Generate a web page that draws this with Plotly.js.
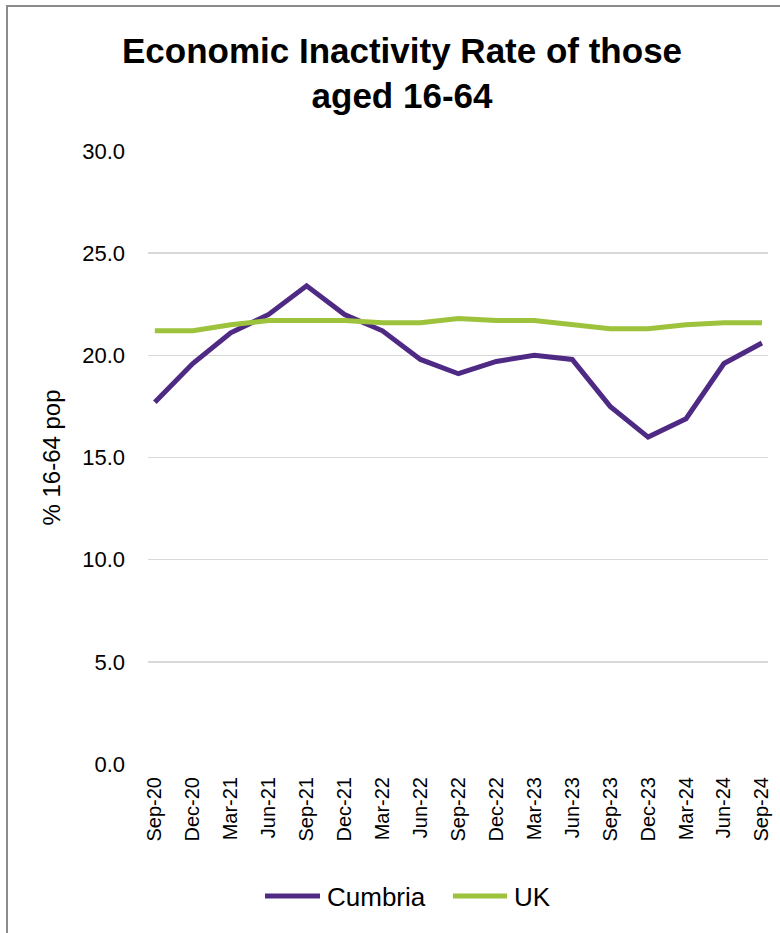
<!DOCTYPE html>
<html>
<head>
<meta charset="utf-8">
<script src="https://cdn.plot.ly/plotly-3.0.1.min.js"></script>
<style>
  html, body { margin: 0; padding: 0; background: #ffffff; }
  #frame {
    position: absolute; left: 6px; top: 5px; width: 900px; height: 1100px;
    border: 2px solid #8c8c8c; box-sizing: border-box; z-index: 0;
  }
  #chart { position: absolute; left: 0; top: 0; width: 780px; height: 933px; z-index: 1; }
</style>
</head>
<body>
<div id="frame"></div>
<div id="chart"></div>
<script>
// Quarter labels (rolling year ending)
const quarters = ["Sep-20", "Dec-20", "Mar-21", "Jun-21", "Sep-21", "Dec-21", "Mar-22", "Jun-22",
                  "Sep-22", "Dec-22", "Mar-23", "Jun-23", "Sep-23", "Dec-23", "Mar-24", "Jun-24", "Sep-24"];

// Economic inactivity rate, % of population aged 16-64
const cumbria = [17.7, 19.6, 21.1, 22.0, 23.4, 22.0, 21.2, 19.8, 19.1, 19.7, 20.0, 19.8, 17.5, 16.0, 16.9, 19.6, 20.6];
const uk      = [21.2, 21.2, 21.5, 21.7, 21.7, 21.7, 21.6, 21.6, 21.8, 21.7, 21.7, 21.5, 21.3, 21.3, 21.5, 21.6, 21.6];

const seriesNames = ["Cumbria", "UK"];
const seriesColors = ["#4f2a84", "#9dc23c"];

const yTicks = [0, 5, 10, 15, 20, 25, 30];
const yTickText = ["0.0", "5.0", "10.0", "15.0", "20.0", "25.0", "30.0"];

const idx = quarters.map((_, i) => i);

const traces = [cumbria, uk].map((vals, k) => ({
  x: idx, y: vals, name: seriesNames[k], type: "scatter", mode: "lines",
  line: { color: seriesColors[k], width: 5 }
}));

// Plot-area geometry, used to place the legend below the axis
const M = { l: 148, r: 12, t: 151, b: 169 };
const W = 780, H = 933;
const pw = W - M.l - M.r, ph = H - M.t - M.b;
const px = v => (v - M.l) / pw;
const py = v => (H - M.b - v) / ph;

// Legend: a long colour bar followed by the series name
const legendY = 896;
const legendItems = [
  { x0: 265, x1: 320, tx: 325 },
  { x0: 453, x1: 507, tx: 512 }
];
const shapes = legendItems.map((it, k) => ({
  type: "line", xref: "paper", yref: "paper",
  x0: px(it.x0), x1: px(it.x1), y0: py(legendY), y1: py(legendY),
  line: { color: seriesColors[k], width: 5 }
}));
const annotations = legendItems.map((it, k) => ({
  xref: "paper", yref: "paper", x: px(it.tx), y: py(legendY + 1),
  xanchor: "left", yanchor: "middle", showarrow: false,
  text: seriesNames[k], font: { size: 26, color: "#000000" }
}));

const layout = {
  width: W, height: H,
  margin: M,
  paper_bgcolor: "rgba(0,0,0,0)",
  plot_bgcolor: "rgba(0,0,0,0)",
  font: { family: "Liberation Sans, Arial, sans-serif", color: "#000000", size: 20 },
  title: {
    text: "<b>Economic Inactivity Rate of those<br>aged 16-64</b>",
    font: { family: "Liberation Sans, Arial, sans-serif", size: 35, color: "#000000" },
    x: 402 / W, xanchor: "center", xref: "container",
    y: 0.933, yanchor: "middle", yref: "container"
  },
  xaxis: {
    range: [-0.18, 16.16],
    tickmode: "array", tickvals: idx, ticktext: quarters,
    tickangle: -90, showgrid: false, zeroline: false, showline: false,
    ticks: "", ticklabelstandoff: 8, fixedrange: true,
    tickfont: { size: 20, color: "#000000" }
  },
  yaxis: {
    range: [0, 30], tickmode: "array", tickvals: yTicks, ticktext: yTickText,
    showgrid: true, gridcolor: "#d9d9d9", gridwidth: 1.5,
    zeroline: false, showline: false, ticks: "", ticklabelstandoff: 22,
    tickfont: { size: 22, color: "#000000" },
    title: { text: "% 16-64 pop", font: { size: 24, color: "#000000" }, standoff: 14 }
  },
  showlegend: false,
  shapes: shapes,
  annotations: annotations
};

Plotly.newPlot("chart", traces, layout, { displayModeBar: false, staticPlot: true });
</script>
</body>
</html>
